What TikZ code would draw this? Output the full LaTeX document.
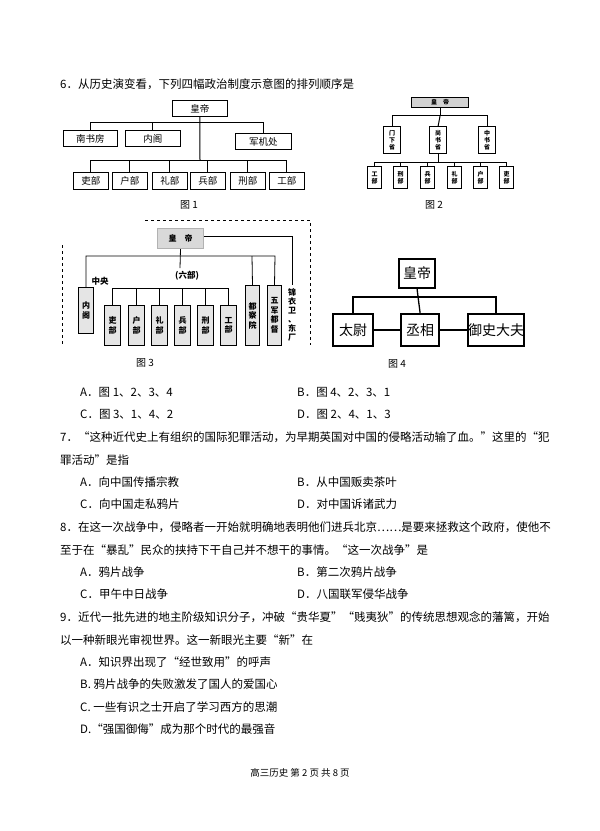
\documentclass[tikz,border=0pt]{standalone}
\usepackage{fontspec}
\usetikzlibrary{calc}
\setmainfont{Noto Sans CJK SC}
\begin{document}
\begin{tikzpicture}[x=1pt,y=-1pt,
  txt/.style={anchor=west,inner sep=0pt,font=\fontsize{11.5}{13}\selectfont},
  b1/.style={draw,line width=0.8pt,inner sep=0pt,font=\fontsize{9.5}{11}\selectfont,anchor=north west},
  b2/.style={draw,line width=1.3pt,inner sep=0pt,font=\fontsize{6}{7}\selectfont\bfseries,anchor=north west,align=center},
  b3/.style={draw,line width=1pt,inner sep=0pt,font=\fontsize{8}{9.5}\selectfont\bfseries,anchor=north west,align=center},
  b4/.style={draw,line width=2.2pt,inner sep=0pt,font=\fontsize{14}{16}\selectfont,anchor=north west},
  ln/.style={line width=1pt},
  figcap/.style={font=\fontsize{10}{12}\selectfont,inner sep=0pt}]
\fill[white] (0,0) rectangle (600,831);
\useasboundingbox (0,0) rectangle (600,831);
\node[txt] (q6) at (60,84) {6．从历史演变看，下列四幅政治制度示意图的排列顺序是};
% Figure 1
\node[b1,minimum width=55pt,minimum height=16pt] (h1) at (172,100) {皇帝};
\node[b1,minimum width=54pt,minimum height=16pt] (n1) at (63,130) {南书房};
\node[b1,minimum width=55pt,minimum height=16pt] (n2) at (125,130) {内阁};
\node[b1,minimum width=56pt,minimum height=16pt] (n3) at (235,133) {军机处};
\draw[ln] (h1.south) -- (200,160);
\draw[ln] (n1.north) -- ++(0,-8) -| (n3.north);
\draw[ln] (n2.north) -- ++(0,-8);
\foreach \x/\t [count=\i] in {73/吏部,112/户部,152/礼部,190/兵部,230/刑部,269/工部}{
  \node[b1,minimum width=35pt,minimum height=17pt] (m\i) at (\x,172) {\t};
  \draw[ln] (m\i.north) -- ++(0,-12);
}
\draw[ln] ($(m1.north)+(0,-12)$) -- ($(m6.north)+(0,-12)$);
\node[figcap] (c1) at (189,205) {图 1};
% Figure 2
\node[b2,fill=gray!35,minimum width=57pt,minimum height=10pt] (h2) at (411,97) {皇\quad 帝};
\foreach \x/\t [count=\i] in {383/门\\下\\省,429/尚\\书\\省,478/中\\书\\省}{
  \node[b2,minimum width=17pt,minimum height=27pt] (s\i) at (\x,126) {\t};
}
\draw[line width=1pt] (h2.south) -- ++(0,7) coordinate (j2);
\draw[line width=1pt] (s1.north) |- (j2) -| (s3.north);
\draw[line width=1pt] (s2.north) -- (j2);
\foreach \x/\t [count=\i] in {367/工\\部,393/刑\\部,420/兵\\部,447/礼\\部,473/户\\部,499/吏\\部}{
  \node[b2,minimum width=14pt,minimum height=22pt] (p\i) at (\x,166) {\t};
  \draw[line width=1pt] (p\i.north) -- ++(0,-4);
}
\draw[line width=1pt] (s2.south) -- ++(0,9);
\draw[line width=1pt] ($(p1.north)+(0,-4)$) -- ($(p6.north)+(0,-4)$);
\node[figcap] (c2) at (434,205) {图 2};
% Figure 3
\draw[dashed,line width=0.8pt] (145,220) -- (310,220) -- (310,345);
\draw[dashed,line width=0.8pt] (62,245) -- (62,345);
\node[b3,fill=gray!30,draw=gray!60,minimum width=46pt,minimum height=20pt] (h3) at (157,228) {皇\quad 帝};
\draw[line width=0.8pt] ($(h3.east)+(0,-2)$) -| (292,285);
\node[font=\fontsize{8}{9}\selectfont\bfseries,align=center,inner sep=0pt,anchor=north] (jy) at (292,288) {锦\\衣\\卫\\、\\东\\厂};
\node[b3,fill=gray!20,minimum width=15pt,minimum height=46pt] (ng) at (78,287) {内\\阁};
\node[b3,fill=gray!20,minimum width=14pt,minimum height=60pt] (dc) at (245,285) {都\\察\\院};
\node[b3,fill=gray!20,minimum width=14pt,minimum height=60pt] (wj) at (267,285) {五\\军\\都\\督};
\draw[line width=0.8pt] (ng.north) |- (275,256) -- (wj.north);
\draw[line width=0.8pt] (dc.north) -- (252,256);
\draw[line width=0.8pt] (h3.south) -- (180,268);
\node[font=\fontsize{8.5}{10}\selectfont\bfseries,inner sep=0pt] (lb) at (187,276) {(六部)};
\node[font=\fontsize{8.5}{10}\selectfont\bfseries,inner sep=0pt] (zy) at (100,281) {中央};
\foreach \x/\t [count=\i] in {104/吏\\部,128/户\\部,151/礼\\部,174/兵\\部,197/刑\\部,220/工\\部}{
  \node[b3,fill=gray!20,minimum width=16pt,minimum height=40pt] (r\i) at (\x,305) {\t};
  \draw[line width=0.8pt] (r\i.north) -- ++(0,-17);
}
\draw[line width=0.8pt] (113,288) -- ($(r6.north)+(0,-17)$);
\node[figcap] (c3) at (145,363) {图 3};
% Figure 4
\node[b4,minimum width=36pt,minimum height=29pt] (h4) at (398,258) {皇帝};
\node[b4,minimum width=40pt,minimum height=32pt] (t4) at (332,313) {太尉};
\node[b4,minimum width=38pt,minimum height=32pt] (x4) at (400,313) {丞相};
\node[b4,minimum width=51pt,minimum height=32pt] (y4) at (467,313) {御史大夫};
\draw[line width=1.3pt] (t4.north) |- (415,297) coordinate (j4) -| (y4.north);
\draw[line width=1.3pt] (h4.south) -- (x4.north);
\draw[line width=1.3pt] (t4.east) -- (x4.west);
\draw[line width=1.3pt] (x4.east) -- (y4.west);
\node[figcap] (c4) at (397,364) {图 4};
% Text
\node[txt] (a6) at (80,392) {A．图 1、2、3、4};
\node[txt] (b6) at (297,392) {B．图 4、2、3、1};
\node[txt] (cc6) at (80,414) {C．图 3、1、4、2};
\node[txt] (d6) at (297,414) {D．图 2、4、1、3};
\node[txt] (q7) at (60,437) {7．“这种近代史上有组织的国际犯罪活动，为早期英国对中国的侵略活动输了血。”这里的“犯};
\node[txt] (q7b) at (60,460) {罪活动”是指};
\node[txt] (a7) at (80,482) {A．向中国传播宗教};
\node[txt] (b7) at (297,482) {B．从中国贩卖茶叶};
\node[txt] (cc7) at (80,504) {C．向中国走私鸦片};
\node[txt] (d7) at (297,504) {D．对中国诉诸武力};
\node[txt] (q8) at (60,527) {8．在这一次战争中，侵略者一开始就明确地表明他们进兵北京……是要来拯救这个政府，使他不};
\node[txt] (q8b) at (60,550) {至于在“暴乱”民众的挟持下干自己并不想干的事情。“这一次战争”是};
\node[txt] (a8) at (80,572) {A．鸦片战争};
\node[txt] (b8) at (297,572) {B．第二次鸦片战争};
\node[txt] (cc8) at (80,594) {C．甲午中日战争};
\node[txt] (d8) at (297,594) {D．八国联军侵华战争};
\node[txt] (q9) at (60,617) {9．近代一批先进的地主阶级知识分子，冲破“贵华夏”“贱夷狄”的传统思想观念的藩篱，开始};
\node[txt] (q9b) at (60,640) {以一种新眼光审视世界。这一新眼光主要“新”在};
\node[txt] (a9) at (80,662) {A．知识界出现了“经世致用”的呼声};
\node[txt] (b9) at (80,684) {B. 鸦片战争的失败激发了国人的爱国心};
\node[txt] (cc9) at (80,707) {C. 一些有识之士开启了学习西方的思潮};
\node[txt] (d9) at (80,729) {D.“强国御侮”成为那个时代的最强音};
\node[font=\fontsize{9.5}{11}\selectfont,inner sep=0pt] (ft) at (300,773) {高三历史 第 2 页 共 8 页};
\end{tikzpicture}
\end{document}
